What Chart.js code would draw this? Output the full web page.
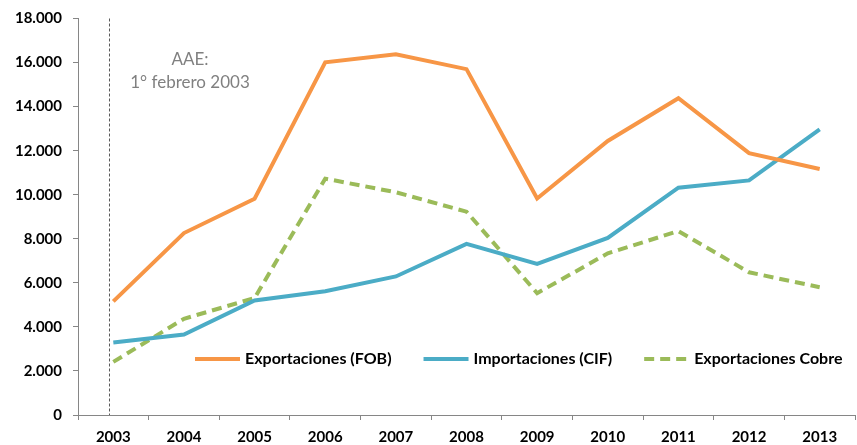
<!DOCTYPE html>
<html>
<head>
<meta charset="utf-8">
<script src="https://cdn.jsdelivr.net/npm/chart.js@4"></script>
<style>
  html, body { margin: 0; padding: 0; background: #fff; }
  #wrap { width: 857px; height: 445px; position: relative; }
</style>
</head>
<body>
<div id="wrap"><canvas id="tradeChart"></canvas></div>
<script>
// datos (millones US$)
const years = ['2003', '2004', '2005', '2006', '2007', '2008', '2009', '2010', '2011', '2012', '2013'];
const exportFob = [5160, 8260, 9820, 16010, 16380, 15700, 9830, 12440, 14380, 11890, 11170];
const importCif = [3290, 3650, 5200, 5620, 6290, 7770, 6860, 8040, 10320, 10650, 12970];
const exportCobre = [2410, 4370, 5310, 10730, 10110, 9230, 5530, 7340, 8350, 6480, 5800];
const yTicks = [0, 2000, 4000, 6000, 8000, 10000, 12000, 14000, 16000, 18000];
const noteLines = ['AAE:', '1° febrero 2003'];

const axisColor = '#868686';
const fontFam = 'Lato, "Liberation Sans", sans-serif';

function fmt(v) {
    return v.toString().replace(/\B(?=(\d{3})+(?!\d))/g, '.');
}

// leyenda dentro del área + nota AAE + línea punteada
const extras = {
    id: 'extras',
    afterDatasetsDraw(chart) {
        const ctx = chart.ctx;
        const x = chart.scales.x, y = chart.scales.y;
        ctx.save();

        // linea vertical AAE
        const lx = Math.round(x.getPixelForValue(0) - 4) + 0.5;
        ctx.strokeStyle = '#595959';
        ctx.lineWidth = 1;
        ctx.setLineDash([3, 2]);
        ctx.beginPath();
        ctx.moveTo(lx, y.getPixelForValue(18000));
        ctx.lineTo(lx, y.getPixelForValue(0));
        ctx.stroke();
        ctx.setLineDash([]);

        // nota
        ctx.fillStyle = '#808080';
        ctx.font = '17px ' + fontFam;
        ctx.textAlign = 'center';
        ctx.textBaseline = 'middle';
        ctx.fillText(noteLines[0], 190, 60);
        ctx.fillText(noteLines[1], 190, 83);

        // leyenda
        let px = 195;
        const py = 359;
        ctx.font = 'bold 16px ' + fontFam;
        ctx.textAlign = 'left';
        chart.data.datasets.forEach(ds => {
            ctx.strokeStyle = ds.borderColor;
            ctx.lineWidth = 4;
            ctx.setLineDash(ds.borderDash || []);
            ctx.beginPath();
            ctx.moveTo(px, py);
            ctx.lineTo(px + 45, py);
            ctx.stroke();
            ctx.setLineDash([]);
            ctx.fillStyle = '#000';
            ctx.fillText(ds.label, px + 50, py);
            px += 50 + ctx.measureText(ds.label).width + 32;
        });
        ctx.restore();
    }
};

new Chart(document.getElementById('tradeChart'), {
    type: 'line',
    data: {
        labels: years,
        datasets: [
            {
                label: 'Exportaciones (FOB)',
                data: exportFob,
                borderColor: '#F79646',
                borderWidth: 4,
                pointRadius: 0,
                tension: 0
            },
            {
                label: 'Importaciones (CIF)',
                data: importCif,
                borderColor: '#4BACC6',
                borderWidth: 4,
                pointRadius: 0,
                tension: 0
            },
            {
                label: 'Exportaciones Cobre',
                data: exportCobre,
                borderColor: '#9BBB59',
                borderWidth: 4,
                borderDash: [10, 6],
                pointRadius: 0,
                tension: 0
            }
        ]
    },
    options: {
        responsive: true,
        maintainAspectRatio: false,
        animation: false,
        layout: { padding: { top: 13, right: 2, left: 0, bottom: 0 } },
        plugins: {
            legend: { display: false },
            tooltip: { enabled: false }
        },
        scales: {
            x: {
                offset: true,
                grid: { offset: true, drawOnChartArea: false, tickLength: 5, color: axisColor },
                border: { color: axisColor, width: 1 },
                ticks: {
                    color: '#000',
                    font: { family: fontFam, size: 15, weight: 'bold' },
                    padding: 8,
                    maxRotation: 0
                },
                afterFit(scale) { scale.height = 30; }
            },
            y: {
                min: 0,
                max: 18000,
                afterBuildTicks(scale) { scale.ticks = yTicks.map(v => ({ value: v })); },
                grid: { drawOnChartArea: false, tickLength: 5, color: axisColor },
                border: { color: axisColor, width: 1 },
                ticks: {
                    color: '#000',
                    font: { family: fontFam, size: 15, weight: 'bold', lineHeight: 1 },
                    padding: 11,
                    callback: v => fmt(v)
                },
                afterFit(scale) { scale.width = 78; }
            }
        }
    },
    plugins: [extras]
});
</script>
</body>
</html>
